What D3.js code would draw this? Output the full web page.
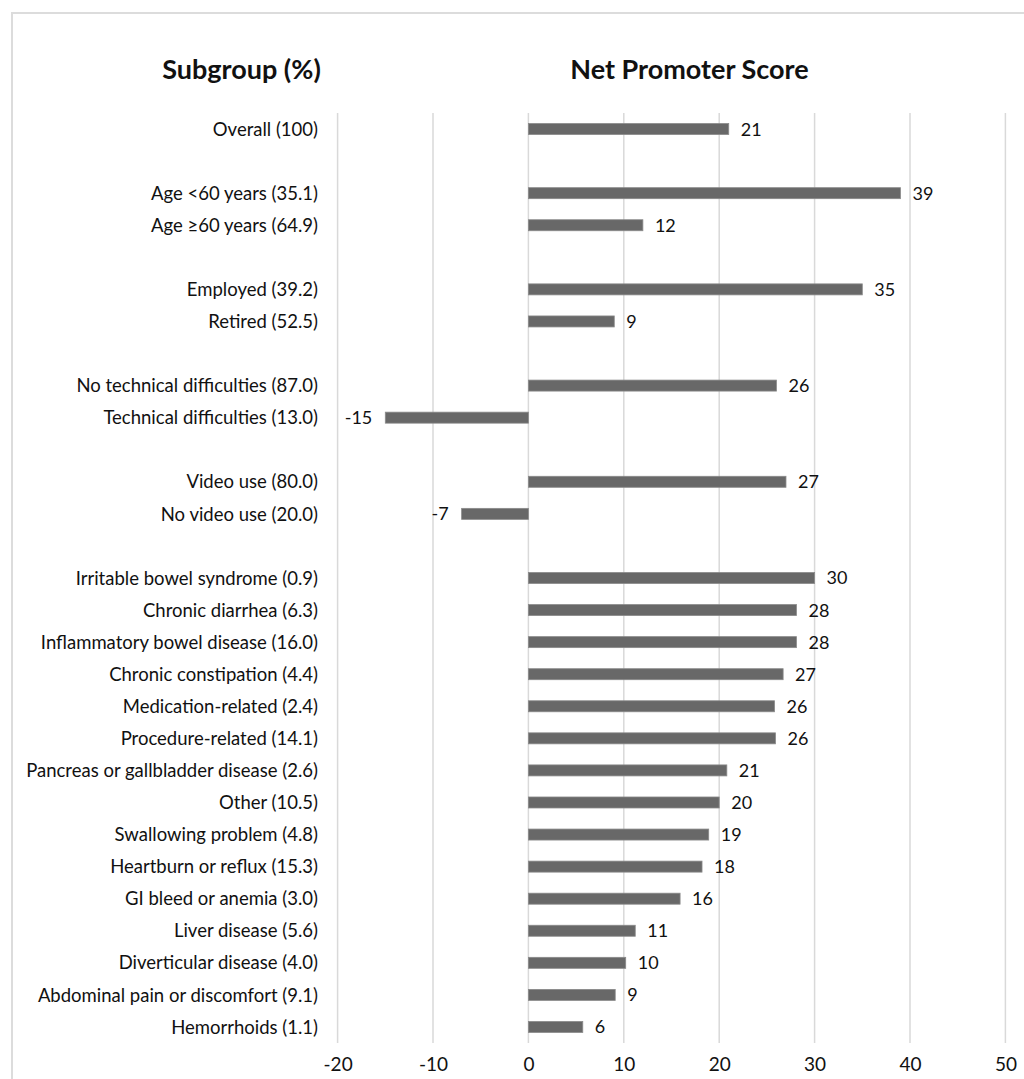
<!DOCTYPE html>
<html>
<head>
<meta charset="utf-8">
<script src="https://cdn.jsdelivr.net/npm/d3@7"></script>
<style>
  html, body { margin: 0; padding: 0; background: #fff; }
  svg { display: block; }
  text { font-family: Lato, "Open Sans", sans-serif; fill: #111; }
</style>
</head>
<body>
<svg id="chart" width="1024" height="1079"></svg>
<script>
// Row labels (null = blank spacer row)
const subgroups = [
  "Overall (100)",
  null,
  "Age <60 years (35.1)",
  "Age ≥60 years (64.9)",
  null,
  "Employed (39.2)",
  "Retired (52.5)",
  null,
  "No technical difficulties (87.0)",
  "Technical difficulties (13.0)",
  null,
  "Video use (80.0)",
  "No video use (20.0)",
  null,
  "Irritable bowel syndrome (0.9)",
  "Chronic diarrhea (6.3)",
  "Inflammatory bowel disease (16.0)",
  "Chronic constipation (4.4)",
  "Medication-related (2.4)",
  "Procedure-related (14.1)",
  "Pancreas or gallbladder disease (2.6)",
  "Other (10.5)",
  "Swallowing problem (4.8)",
  "Heartburn or reflux (15.3)",
  "GI bleed or anemia (3.0)",
  "Liver disease (5.6)",
  "Diverticular disease (4.0)",
  "Abdominal pain or discomfort (9.1)",
  "Hemorrhoids (1.1)"
];
// Net Promoter Score values (null = spacer)
const npsValues = [
  21.0, null,
  39.0, 12.0, null,
  35.0, 9.0, null,
  26.0, -15.0, null,
  27.0, -7.0, null,
  30.0, 28.1, 28.1, 26.7, 25.8, 25.9, 20.8, 20.0, 18.9, 18.2, 15.9, 11.2, 10.2, 9.1, 5.7
];
const xTicks = [-20, -10, 0, 10, 20, 30, 40, 50];
const leftTitle = "Subgroup (%)";
const rightTitle = "Net Promoter Score";

const svg = d3.select("#chart");
const fmt = v => String(Math.round(v)); // plain hyphen minus

// frame
svg.append("rect")
  .attr("x", 12).attr("y", 13)
  .attr("width", 1040).attr("height", 1100)
  .attr("fill", "none").attr("stroke", "#dcdcdc").attr("stroke-width", 2);

const x = d3.scaleLinear().domain([-20, 50]).range([337.6, 1005.4]);
const y = d3.scaleBand().domain(d3.range(subgroups.length)).range([113, 1043]).padding(0);
const barH = 11;

// gridlines
svg.append("g").selectAll("line")
  .data(xTicks).join("line")
  .attr("x1", d => x(d)).attr("x2", d => x(d))
  .attr("y1", y.range()[0]).attr("y2", y.range()[1])
  .attr("stroke", "#d9d9d9").attr("stroke-width", 1.5);

// x axis tick labels
const xAxis = d3.axisBottom(x).tickValues(xTicks).tickSize(0).tickPadding(0).tickFormat(fmt);
const gx = svg.append("g").attr("transform", "translate(0,1057)").call(xAxis);
gx.select(".domain").remove();
gx.selectAll("text")
  .attr("font-size", 19).attr("font-family", "Lato, 'Open Sans', sans-serif")
  .attr("fill", "#111");

const rows = subgroups.map((s, i) => ({ label: s, value: npsValues[i], i }))
  .filter(d => d.label !== null);

// bars
svg.append("g").selectAll("rect")
  .data(rows).join("rect")
  .attr("x", d => x(Math.min(0, d.value)))
  .attr("width", d => Math.abs(x(d.value) - x(0)))
  .attr("y", d => y(d.i) + y.bandwidth() / 2 - barH / 2)
  .attr("height", barH)
  .attr("fill", "#686868")
  .attr("stroke", "#8a8a8a").attr("stroke-width", 0.8);

// value labels
svg.append("g").selectAll("text")
  .data(rows).join("text")
  .attr("x", d => d.value >= 0 ? x(d.value) + 12 : x(d.value) - 13)
  .attr("y", d => y(d.i) + y.bandwidth() / 2)
  .attr("dy", "0.36em")
  .attr("text-anchor", d => d.value >= 0 ? "start" : "end")
  .attr("font-size", 18)
  .text(d => fmt(d.value));

// row labels
svg.append("g").selectAll("text")
  .data(rows).join("text")
  .attr("x", 318)
  .attr("y", d => y(d.i) + y.bandwidth() / 2)
  .attr("dy", "0.36em")
  .attr("text-anchor", "end")
  .attr("font-size", 18.5)
  .text(d => d.label);

// titles
svg.append("text").attr("x", 241.5).attr("y", 79)
  .attr("text-anchor", "middle").attr("font-size", 27).attr("font-weight", "bold")
  .text(leftTitle);
svg.append("text").attr("x", 689.5).attr("y", 79)
  .attr("text-anchor", "middle").attr("font-size", 27).attr("font-weight", "bold")
  .text(rightTitle);
</script>
</body>
</html>
